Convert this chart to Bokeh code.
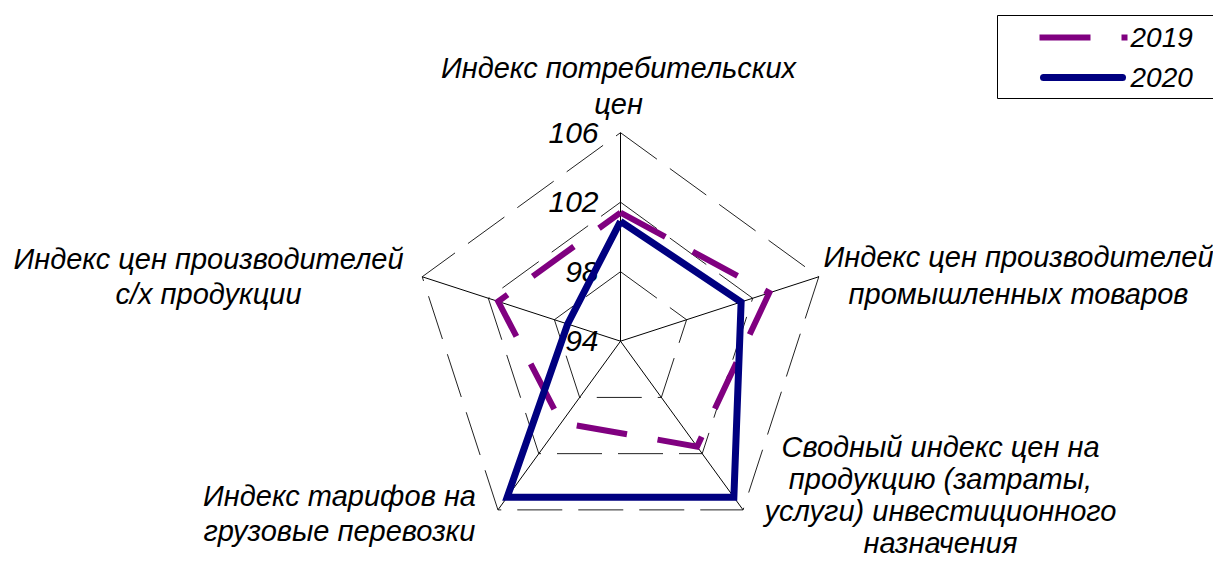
import math
from bokeh.plotting import figure
from bokeh.models import Range1d
from bokeh.core.properties import value
from bokeh.embed import file_html
from bokeh.resources import INLINE

# ---------------- data ----------------
categories = [
    "Индекс потребительских\nцен",
    "Индекс цен производителей\nпромышленных товаров",
    "Сводный индекс цен на\nпродукцию (затраты,\nуслуги) инвестиционного\nназначения",
    "Индекс тарифов на\nгрузовые перевозки",
    "Индекс цен производителей\nс/х продукции",
]
series_names = ["2019", "2020"]
values_2019 = [101.4, 103.0, 101.5, 99.8, 101.4]
values_2020 = [100.9, 101.3, 105.1, 105.1, 97.2]
tick_values = [94, 98, 102, 106]
tick_labels = ["94", "98", "102", "106"]

# ---------------- layout / style ----------------
R_MIN, R_MAX = 94, 106
SCALE = 17.375          # px per index unit
CX, CY = 620.0, 340.7   # centre in picture px
W, H = 1213, 563
FONT = value("Liberation Sans")
C2019 = "#800080"
C2020 = "#000080"


def to_data(X, Y):
    return (X - CX) / SCALE, (CY - Y) / SCALE


def polar(val, i):
    n = len(categories)
    ang = math.radians(90 - 360.0 * i / n)
    r = val - R_MIN
    return r * math.cos(ang), r * math.sin(ang)


x0, y1 = to_data(0, 0)
x1, y0 = to_data(W, H)

p = figure(width=W, height=H, x_range=Range1d(x0, x1), y_range=Range1d(y0, y1),
           x_axis_type=None, y_axis_type=None, toolbar_location=None,
           output_backend="svg", min_border=0, outline_line_color=None,
           background_fill_color="white", border_fill_color="white")

n = len(categories)

# rings (gridlines)
for tv in tick_values[1:]:
    pts = [polar(tv, i) for i in range(n)] + [polar(tv, 0)]
    p.line([q[0] for q in pts], [q[1] for q in pts], line_color="#222222",
           line_width=1, line_dash="45 16")

# spokes
for i in range(n):
    ex, ey = polar(R_MAX, i)
    p.line([0, ex], [0, ey], line_color="black", line_width=1)

# tick labels
for tv, tl in zip(tick_values, tick_labels):
    tx, _ = to_data(598, 0)
    _, ty = polar(tv, 0)
    p.text(x=[tx], y=[ty], text=[tl], text_font=FONT, text_font_style="italic",
           text_font_size="30px", text_align="right", text_baseline="middle",
           text_color="black")

# category labels (centre x, first-line y, line step) in picture px
label_anchor = [(618, 67, 36), (1018, 256, 37), (940, 446, 32), (339, 495, 35), (208, 258, 35)]
for cat, (ax, ay, step) in zip(categories, label_anchor):
    for k, line in enumerate(cat.split("\n")):
        lx, ly = to_data(ax, ay + k * step)
        p.text(x=[lx], y=[ly], text=[line], text_font=FONT, text_font_style="italic",
               text_font_size="29px", text_align="center", text_baseline="middle",
               text_color="black")

# series
pts19 = [polar(v, i) for i, v in enumerate(values_2019)]
pts19.append(pts19[0])
p.line([q[0] for q in pts19], [q[1] for q in pts19], line_color=C2019, line_width=6,
       line_dash="51 31", line_join="miter", line_cap="butt")

pts20 = [polar(v, i) for i, v in enumerate(values_2020)]
pts20.append(pts20[0])
p.line([q[0] for q in pts20], [q[1] for q in pts20], line_color=C2020, line_width=7,
       line_join="miter")

# legend box
lx0, ly0 = to_data(997, 15)
lx1, ly1 = to_data(1260, 98)
p.quad(left=[lx0], right=[lx1], top=[ly0], bottom=[ly1], fill_color="white",
       line_color="black", line_width=1)
a, b = to_data(1039, 37)
c, _ = to_data(1127, 37)
p.line([a, c], [b, b], line_color=C2019, line_width=6, line_dash="51 31", line_cap="butt")
a, b = to_data(1043, 77)
c, _ = to_data(1122, 77)
p.line([a, c], [b, b], line_color=C2020, line_width=7, line_cap="round")
for name, yy in zip(series_names, [37, 77]):
    tx, ty = to_data(1130, yy)
    p.text(x=[tx], y=[ty], text=[name], text_font=FONT, text_font_style="italic",
           text_font_size="28px", text_align="left", text_baseline="middle",
           text_color="black")

open("out.html", "w").write(file_html(p, INLINE))
